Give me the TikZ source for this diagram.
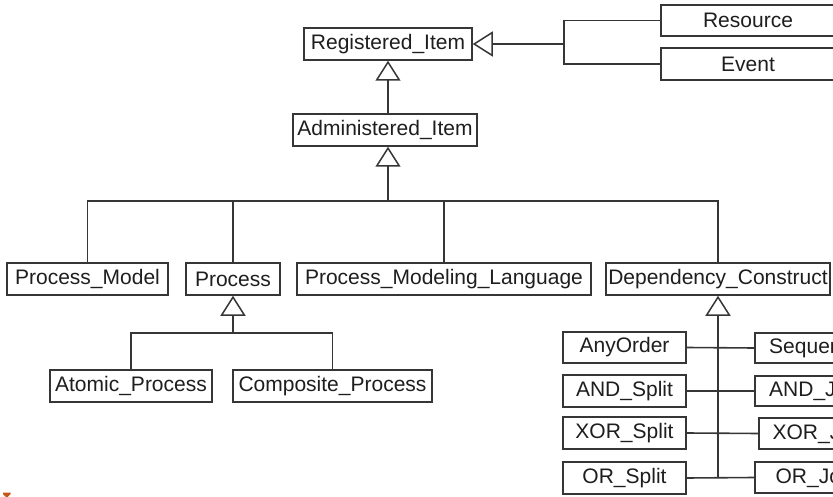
\documentclass[tikz,border=0pt]{standalone}
\usepackage{fontspec}
\setmainfont{Liberation Sans}
\usetikzlibrary{arrows.meta}
\definecolor{edge}{HTML}{363636}
\definecolor{ink}{HTML}{1E1E1E}
\definecolor{cornerorange}{HTML}{C8561A}
\tikzset{
  box/.style={draw=edge, line width=1.5pt, rectangle, inner sep=0pt,
    minimum height=32pt, text=ink,
    font=\fontsize{21}{24}\selectfont},
  link/.style={draw=edge, line width=1.6pt},
  trunk/.style={draw=edge, line width=2.6pt},
  gen/.style={-{Triangle[open, length=20pt, width=25pt, line width=1.5pt]}},
}
\begin{document}
\begin{tikzpicture}[x=1pt, y=-1pt]
\useasboundingbox (0,0) rectangle (833,497);
\clip (0,0) rectangle (833,497);
\fill[white] (0,0) rectangle (833,497);

% top level
\node[box, minimum width=168pt] (reg) at (388,44) {Registered\_Item};
\node[box, minimum width=174pt, minimum height=31pt] (res) at (748,20.5) {Resource};
\node[box, minimum width=174pt] (evt) at (748,64) {Event};
\node[box, minimum width=184pt] (adm) at (385,130) {Administered\_Item};

% second level
\node[box, minimum width=161pt] (pm) at (87.5,279) {Process\_Model};
\node[box, minimum width=94pt] (proc) at (233,279) {Process};
\node[box, minimum width=294pt] (pml) at (444,279) {Process\_Modeling\_Language};
\node[box, minimum width=224pt] (dep) at (718,279) {Dependency\_Construct};

% process kinds
\node[box, minimum width=162pt] (atomic) at (131,386) {Atomic\_Process};
\node[box, minimum width=199pt] (comp) at (332.5,386) {Composite\_Process};

% dependency constructs
\node[box, minimum width=123pt, minimum height=31pt] (anyo) at (624.5,347.5) {AnyOrder};
\node[box, minimum width=123pt] (ands) at (624.5,391) {AND\_Split};
\node[box, minimum width=123pt] (xors) at (624.5,433) {XOR\_Split};
\node[box, minimum width=123pt] (ors) at (624.5,478) {OR\_Split};
\node[box, minimum width=123pt, minimum height=30pt] (seq) at (816.5,348) {Sequence};
\node[box, minimum width=123pt, minimum height=30pt] (andj) at (816.5,391) {AND\_Join};
\node[box, minimum width=123pt, minimum height=31pt] (xorj) at (820.5,433.5) {XOR\_Join};
\node[box, minimum width=123pt, minimum height=31pt] (orj) at (816.5,477.5) {OR\_Join};

% junction points
\coordinate (jr) at (564,44);
\coordinate (bus) at (388,201);
\coordinate (pbus) at (233,333);
\coordinate (dbot) at (718,477.5);

% Resource and Event generalise Registered_Item
\draw[link] (res.west) -| (jr);
\draw[link] (evt.west) -| (jr);
\draw[link, gen] (jr) -- (reg.east);

% Administered_Item generalises Registered_Item
\draw[link, gen] (reg.south |- adm.north) -- (reg.south);

% second level bus
\draw[link, gen] (bus) -- (bus |- adm.south);
\draw[link] (pm.north) |- (bus) -| (dep.north);
\draw[link] (proc.north) -- (proc.north |- bus);
\draw[link] (pml.north) -- (pml.north |- bus);

% process kinds
\draw[trunk, gen] (pbus) -- (proc.south);
\draw[link] (atomic.north) |- (pbus) -| (comp.north);

% dependency constructs
\draw[link] (anyo.east) -- (seq.west);
\draw[link] (ands.east) -- (andj.west);
\draw[link] (xors.east) -- (xorj.west);
\draw[link] (ors.east) -- (orj.west);
\draw[trunk, gen] (dbot) -- (dep.south);

% corner mark
\fill[cornerorange] (3,492.5) -- (10.5,492.5) -- (10.5,494) -- (7.5,497) -- (6,497) -- (3,494) -- cycle;
\end{tikzpicture}
\end{document}
